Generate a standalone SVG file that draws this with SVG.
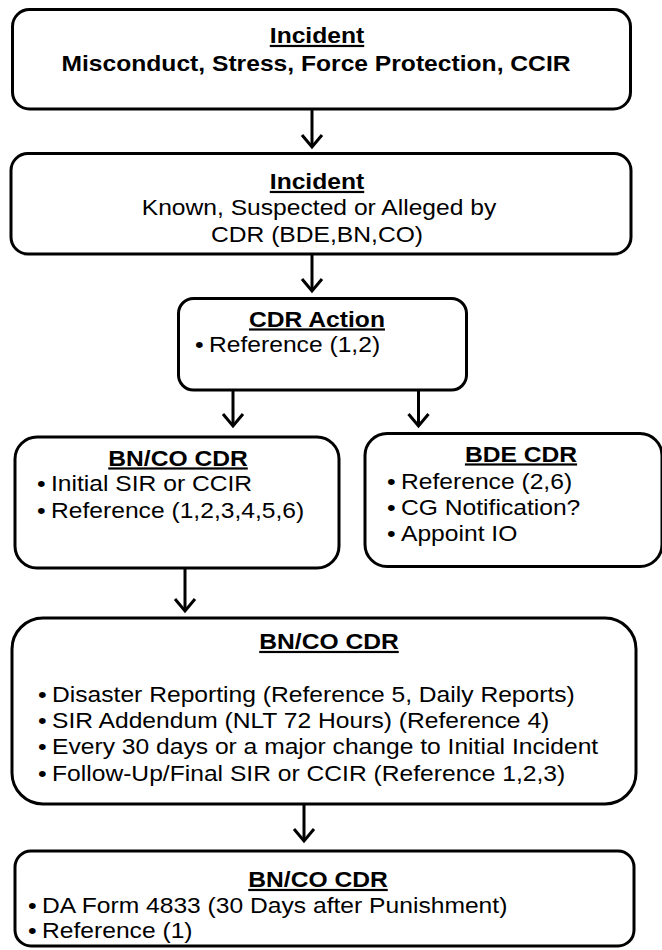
<svg xmlns="http://www.w3.org/2000/svg" width="662" height="950" viewBox="0 0 662 950">
<defs>
<style>
.box{fill:#fff;stroke:#000;stroke-width:3}
.t{font-family:"Liberation Sans",Arial,sans-serif;font-size:22px;fill:#000}
.b{font-weight:bold}
.u{text-decoration:underline}
.m{text-anchor:middle}
.c{fill:none;stroke:#000;stroke-width:3}
</style>
<marker id="ah" markerUnits="userSpaceOnUse" viewBox="-16 -14 20 28" markerWidth="20" markerHeight="28" refX="0" refY="0" orient="auto" overflow="visible">
<path d="M-12,-10 L0,0 L-12,10" fill="none" stroke="#000" stroke-width="3" stroke-linejoin="miter"/>
</marker>
</defs>
<rect width="662" height="950" fill="#fff"/>
<g id="connectors">
<line class="c" x1="312" y1="110" x2="312" y2="147" marker-end="url(#ah)"/>
<line class="c" x1="312" y1="255" x2="312" y2="291" marker-end="url(#ah)"/>
<line class="c" x1="233" y1="391" x2="233" y2="426" marker-end="url(#ah)"/>
<line class="c" x1="418.5" y1="391" x2="418.5" y2="426" marker-end="url(#ah)"/>
<line class="c" x1="185" y1="569" x2="185" y2="611" marker-end="url(#ah)"/>
<line class="c" x1="304" y1="805" x2="304" y2="841" marker-end="url(#ah)"/>
</g>
<g id="n1">
<rect class="box" x="12.5" y="9.5" width="618" height="99.5" rx="17"/>
<text class="t b u m" transform="translate(317 43) scale(1.12 1)">Incident</text>
<text class="t b m" transform="translate(316 70.5) scale(1.12 1)">Misconduct, Stress, Force Protection, CCIR</text>
</g>
<g id="n2">
<rect class="box" x="11" y="153.5" width="620" height="100.5" rx="17"/>
<text class="t b u m" transform="translate(317 189) scale(1.12 1)">Incident</text>
<text class="t m" transform="translate(319 215) scale(1.12 1)">Known, Suspected or Alleged by</text>
<text class="t m" transform="translate(317 241.5) scale(1.12 1)">CDR (BDE,BN,CO)</text>
</g>
<g id="n3">
<rect class="box" x="178.5" y="298.5" width="288" height="91.5" rx="15"/>
<text class="t b u m" transform="translate(317 326.5) scale(1.12 1)">CDR Action</text>
<text class="t" transform="translate(195 351.5) scale(1.12 1)">•</text>
<text class="t" transform="translate(209 351.5) scale(1.12 1)">Reference (1,2)</text>
</g>
<g id="n4">
<rect class="box" x="15" y="437" width="324" height="131" rx="22"/>
<text class="t b u m" transform="translate(178 465.5) scale(1.12 1)">BN/CO CDR</text>
<text class="t" transform="translate(37 491) scale(1.12 1)">•</text>
<text class="t" transform="translate(51 491) scale(1.12 1)">Initial SIR or CCIR</text>
<text class="t" transform="translate(37 518) scale(1.12 1)">•</text>
<text class="t" transform="translate(51 518) scale(1.12 1)">Reference (1,2,3,4,5,6)</text>
</g>
<g id="n5">
<rect class="box" x="365" y="433.5" width="297" height="133" rx="22"/>
<text class="t b u m" transform="translate(521 461.5) scale(1.12 1)">BDE CDR</text>
<text class="t" transform="translate(387 489) scale(1.12 1)">•</text>
<text class="t" transform="translate(401 489) scale(1.12 1)">Reference (2,6)</text>
<text class="t" transform="translate(387 515) scale(1.12 1)">•</text>
<text class="t" transform="translate(401 515) scale(1.12 1)">CG Notification?</text>
<text class="t" transform="translate(387 540.5) scale(1.12 1)">•</text>
<text class="t" transform="translate(401 540.5) scale(1.12 1)">Appoint IO</text>
</g>
<g id="n6">
<rect class="box" x="12" y="618" width="624" height="186" rx="31"/>
<text class="t b u m" transform="translate(329 649) scale(1.12 1)">BN/CO CDR</text>
<text class="t" transform="translate(38 702) scale(1.12 1)">•</text>
<text class="t" transform="translate(52 702) scale(1.12 1)">Disaster Reporting (Reference 5, Daily Reports)</text>
<text class="t" transform="translate(38 728) scale(1.12 1)">•</text>
<text class="t" transform="translate(52 728) scale(1.12 1)">SIR Addendum (NLT 72 Hours) (Reference 4)</text>
<text class="t" transform="translate(38 754) scale(1.12 1)">•</text>
<text class="t" transform="translate(52 754) scale(1.12 1)">Every 30 days or a major change to Initial Incident</text>
<text class="t" transform="translate(38 781) scale(1.12 1)">•</text>
<text class="t" transform="translate(52 781) scale(1.12 1)">Follow-Up/Final SIR or CCIR (Reference 1,2,3)</text>
</g>
<g id="n7">
<rect class="box" x="15" y="851" width="619" height="95" rx="16"/>
<text class="t b u m" transform="translate(318 887) scale(1.12 1)">BN/CO CDR</text>
<text class="t" transform="translate(28 913) scale(1.12 1)">•</text>
<text class="t" transform="translate(42 913) scale(1.12 1)">DA Form 4833 (30 Days after Punishment)</text>
<text class="t" transform="translate(28 938) scale(1.12 1)">•</text>
<text class="t" transform="translate(42 938) scale(1.12 1)">Reference (1)</text>
</g>
</svg>
